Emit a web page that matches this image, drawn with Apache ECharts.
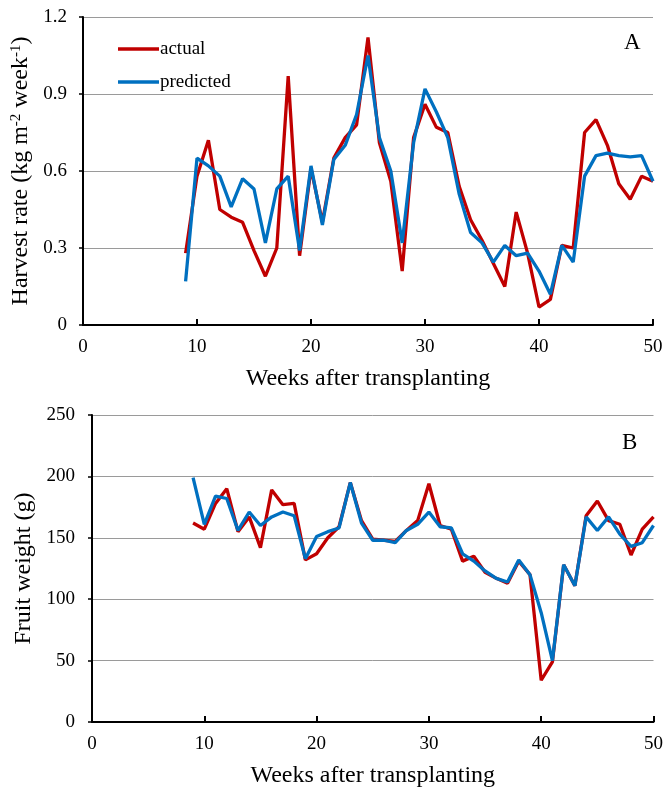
<!DOCTYPE html>
<html>
<head>
<meta charset="utf-8">
<script src="https://cdn.jsdelivr.net/npm/echarts@6/dist/echarts.min.js"></script>
<style>
html,body{margin:0;padding:0;background:#fff;}
#chart{width:666px;height:789px;}
</style>
</head>
<body>
<div id="chart"></div>
<script>
// Weeks after transplanting (shared by both panels)
const weeks = [9,10,11,12,13,14,15,16,17,18,19,20,21,22,23,24,25,26,27,28,29,
  30,31,32,33,34,35,36,37,38,39,40,41,42,43,44,45,46,47,48,49,50];

// Panel A: harvest rate (kg m-2 week-1)
const harvestActual = [0.28,0.58,0.72,0.45,0.42,0.40,0.29,0.19,0.30,0.97,0.27,0.61,0.40,0.65,0.73,0.78,1.12,0.71,0.56,0.21,0.73,
  0.86,0.77,0.75,0.54,0.41,0.33,0.24,0.15,0.44,0.28,0.07,0.10,0.31,0.30,0.75,0.80,0.70,0.55,0.49,0.58,0.56];
const harvestPredicted = [0.17,0.65,0.62,0.58,0.46,0.57,0.53,0.32,0.53,0.58,0.29,0.62,0.39,0.645,0.70,0.82,1.05,0.73,0.60,0.32,0.71,
  0.92,0.83,0.73,0.51,0.36,0.32,0.245,0.31,0.27,0.28,0.21,0.12,0.31,0.245,0.58,0.66,0.67,0.66,0.655,0.66,0.56];

// Panel B: fruit weight (g)
const weightActual = [162,157,178,190,155,167,142,189,177,178,132,137,150,159,195,164,149,148,147,156,164,
  194,160,157,131,135,122,117,113,131,120,34,49,128,111,168,180,164,161,136,157,167];
const weightPredicted = [199,161,184,182,156,171,160,167,171,168,133,151,155,158,195,162,148,148,146,156,161,
  171,159,158,137,131,123,117,114,132,120,89,50,128,111,167,156,167,153,143,146,160];

// Axis ticks
const xTicks = {min: 0, max: 50, interval: 10};
const yTicksA = {min: 0, max: 1.2, interval: 0.3};
const yTicksB = {min: 0, max: 250, interval: 50};

const pairs = (vals) => weeks.map((w, i) => [w, vals[i]]);

const FONT = '"Liberation Serif", "Times New Roman", serif';
const RED = '#C00000';
const BLUE = '#0070C0';

const xAxisBase = (gridIndex) => ({
  type: 'value', gridIndex,
  min: xTicks.min, max: xTicks.max, interval: xTicks.interval,
  name: 'Weeks after transplanting',
  nameLocation: 'middle', nameGap: 42,
  nameTextStyle: {fontFamily: FONT, fontSize: 24, color: '#000'},
  axisLine: {show: true, onZero: false, lineStyle: {color: '#000', width: 2}},
  axisTick: {show: true, inside: true, length: 6, lineStyle: {color: '#000', width: 2}},
  axisLabel: {fontFamily: FONT, fontSize: 19, color: '#000', margin: 13},
  splitLine: {show: false}
});

const yAxisBase = (gridIndex, t, fmt, labelMargin) => ({
  type: 'value', gridIndex,
  min: t.min, max: t.max, interval: t.interval,
  nameLocation: 'middle',
  axisLine: {show: true, lineStyle: {color: '#000', width: 2}},
  axisTick: {show: true, length: 4, lineStyle: {color: '#000', width: 1.5}},
  axisLabel: {fontFamily: FONT, fontSize: 19, color: '#000', margin: labelMargin, formatter: fmt},
  splitLine: {show: true, lineStyle: {color: '#9a9a9a', width: 1}}
});

const lineSeries = (name, data, color, xi, yi) => ({
  name, type: 'line', xAxisIndex: xi, yAxisIndex: yi,
  data, showSymbol: false, symbol: 'none',
  lineStyle: {color, width: 3.3}, itemStyle: {color},
  silent: true, animation: false
});

const chart = echarts.init(document.getElementById('chart'), null, {renderer: 'canvas'});
chart.setOption({
  backgroundColor: '#fff',
  animation: false,
  title: [
    {text: 'A', left: 619, top: 26, textStyle: {fontFamily: FONT, fontSize: 23, fontWeight: 'normal', color: '#000'}},
    {text: 'B', left: 617, top: 426, textStyle: {fontFamily: FONT, fontSize: 23, fontWeight: 'normal', color: '#000'}}
  ],
  legend: {
    data: [{name: 'actual', icon: 'rect'}, {name: 'predicted', icon: 'rect'}],
    orient: 'vertical', left: 113, top: 34,
    itemWidth: 41, itemHeight: 3.3, itemGap: 13,
    textStyle: {fontFamily: FONT, fontSize: 19, lineHeight: 20, color: '#000', padding: [0, 0, 0, -4]},
    selectedMode: false
  },
  grid: [
    {left: 83, right: 13, top: 17, height: 308},
    {left: 92, right: 10, top: 415, height: 309}
  ],
  xAxis: [xAxisBase(0), xAxisBase(1)],
  yAxis: [
    Object.assign(yAxisBase(0, yTicksA, (v) => v === 0 ? '0' : v.toFixed(1), 16), {
      name: '{n|Harvest rate (kg m}{s|-2}{n| week}{s|-1}{n|)}',
      nameGap: 48,
      nameTextStyle: {
        rich: {
          n: {fontFamily: FONT, fontSize: 24, color: '#000'},
          s: {fontFamily: FONT, fontSize: 15, color: '#000', verticalAlign: 'top', padding: [0, 0, 9, 0]}
        }
      }
    }),
    Object.assign(yAxisBase(1, yTicksB, (v) => String(v), 17), {
      name: 'Fruit weight (g)',
      nameGap: 53,
      nameTextStyle: {fontFamily: FONT, fontSize: 24, color: '#000'}
    })
  ],
  series: [
    lineSeries('actual', pairs(harvestActual), RED, 0, 0),
    lineSeries('predicted', pairs(harvestPredicted), BLUE, 0, 0),
    lineSeries('actual', pairs(weightActual), RED, 1, 1),
    lineSeries('predicted', pairs(weightPredicted), BLUE, 1, 1)
  ]
});
</script>
</body>
</html>
